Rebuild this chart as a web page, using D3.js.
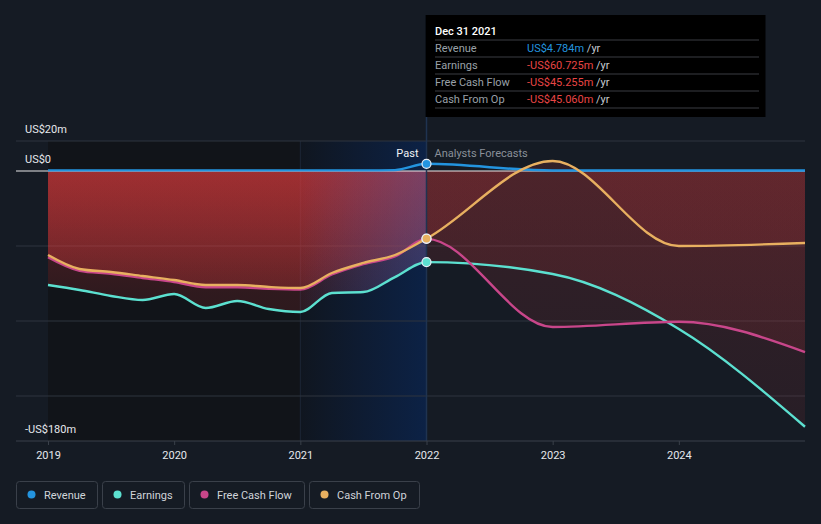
<!DOCTYPE html>
<html><head><meta charset="utf-8">
<script src="https://cdn.jsdelivr.net/npm/d3@7"></script>
<style>
html,body{margin:0;padding:0;background:#151b24;}
svg{display:block;font-family:Roboto,"Noto Sans",sans-serif;}
</style></head>
<body>
<svg id="chart" width="821" height="524"></svg>
<script>
// ---- data (decimal years, values in US$ millions) ----
const pastYears = [2019, 2019.25, 2019.5, 2019.75, 2020, 2020.25, 2020.5, 2020.75, 2021, 2021.25, 2021.5, 2021.75, 2022];
const forecastYears = [2022, 2023, 2024, 2025];
const revenuePast = [0.4, 0.4, 0.4, 0.4, 0.4, 0.4, 0.4, 0.4, 0.4, 0.4, 0.4, 0.6, 4.784];
const earningsPast = [-76, -79.3, -83.3, -86, -82, -91.3, -86.7, -92, -94, -81.3, -80.7, -70.7, -60.725];
const fcfPast = [-57.5, -66.5, -68.5, -71.3, -74, -77.5, -77.5, -78.5, -79, -69, -62, -57, -45.255];
const cfoPast = [-56, -65.3, -67.3, -70, -72.7, -76, -76, -77.3, -78, -68, -61.3, -56, -45.06];
const revenueForecast = [4.784, 0.3, 0.3, 0.3];
const earningsForecast = [-60.725, -68.7, -105.3, -170.5];
const fcfForecast = [-45.255, -104, -100.5, -120.7];
const cfoForecast = [-45.06, 6.7, -50, -48];
const yTicks = [20, 0, -50, -100, -150];
const yLabels = [{v: 20, t: "US$20m"}, {v: 0, t: "US$0"}, {v: -180, t: "-US$180m"}];
const xTicks = [2019, 2020, 2021, 2022, 2023, 2024];
const seriesNames = ["Revenue", "Earnings", "Free Cash Flow", "Cash From Op"];
const seriesColors = ["#2394df", "#5ce0d0", "#c8468a", "#e8b060"];
const tooltipDate = "Dec 31 2021";
const tooltipValues = ["US$4.784m", "-US$60.725m", "-US$45.255m", "-US$45.060m"];

const svg = d3.select("#chart");
const x = d3.scaleLinear().domain([2019, 2025]).range([48, 805]);
const y = d3.scaleLinear().domain([-180, 20]).range([441, 141]);
const xNow = x(2022);

const series = [
  {past: revenuePast, fc: revenueForecast},
  {past: earningsPast, fc: earningsForecast},
  {past: fcfPast, fc: fcfForecast},
  {past: cfoPast, fc: cfoForecast}
].map((s, i) => ({
  name: seriesNames[i], color: seriesColors[i],
  pts: pastYears.map((yr, j) => [yr, s.past[j]]).concat(forecastYears.slice(1).map((yr, j) => [yr, s.fc[j + 1]]))
}));

const curve = d3.curveMonotoneX;
const area = d3.area().x(d => x(d[0])).y0(y(0)).y1(d => y(d[1])).curve(curve);
const line = d3.line().x(d => x(d[0])).y(d => y(d[1])).curve(curve);

const defs = svg.append("defs");
const gPast = defs.append("linearGradient").attr("id", "redPast").attr("gradientUnits", "userSpaceOnUse")
  .attr("x1", 0).attr("x2", 0).attr("y1", y(0)).attr("y2", y(-180));
gPast.append("stop").attr("offset", 0).attr("stop-color", "#dc3a3c").attr("stop-opacity", 0.33);
gPast.append("stop").attr("offset", 0.45).attr("stop-color", "#dc3a3c").attr("stop-opacity", 0.15);
gPast.append("stop").attr("offset", 1).attr("stop-color", "#dc3a3c").attr("stop-opacity", 0.08);
const gFc = defs.append("linearGradient").attr("id", "redFc").attr("gradientUnits", "userSpaceOnUse")
  .attr("x1", 0).attr("x2", 0).attr("y1", y(0)).attr("y2", y(-180));
gFc.append("stop").attr("offset", 0).attr("stop-color", "#dc3a3c").attr("stop-opacity", 0.15);
gFc.append("stop").attr("offset", 1).attr("stop-color", "#dc3a3c").attr("stop-opacity", 0.09);
const gBlue = defs.append("linearGradient").attr("id", "blueHi").attr("gradientUnits", "userSpaceOnUse")
  .attr("x1", x(2021)).attr("x2", xNow).attr("y1", 0).attr("y2", 0);
gBlue.append("stop").attr("offset", 0).attr("stop-color", "#0b2550").attr("stop-opacity", 0.05);
gBlue.append("stop").attr("offset", 1).attr("stop-color", "#0b2550").attr("stop-opacity", 0.8);
const gBlue2 = defs.append("linearGradient").attr("id", "blueHi2").attr("gradientUnits", "userSpaceOnUse")
  .attr("x1", x(2021)).attr("x2", xNow).attr("y1", 0).attr("y2", 0);
gBlue2.append("stop").attr("offset", 0).attr("stop-color", "#3a5aa8").attr("stop-opacity", 0.0);
gBlue2.append("stop").attr("offset", 1).attr("stop-color", "#3a5aa8").attr("stop-opacity", 0.35);
defs.append("clipPath").attr("id", "clipPast").append("rect")
  .attr("x", x(2019)).attr("y", 0).attr("width", xNow - x(2019)).attr("height", 524);
defs.append("clipPath").attr("id", "clipFc").append("rect")
  .attr("x", xNow).attr("y", 0).attr("width", x(2025) - xNow).attr("height", 524);
defs.append("clipPath").attr("id", "clipArea").append("path").attr("d", area(series[1].pts));

// backgrounds
svg.append("rect").attr("x", x(2019)).attr("y", y(20)).attr("width", x(2021) - x(2019)).attr("height", y(-180) - y(20)).attr("fill", "#111419");
svg.append("rect").attr("x", x(2021)).attr("y", y(20)).attr("width", xNow - x(2021)).attr("height", y(-180) - y(20)).attr("fill", "#10151d");
svg.append("rect").attr("x", x(2021)).attr("y", y(20)).attr("width", xNow - x(2021)).attr("height", y(-180) - y(20)).attr("fill", "url(#blueHi)");
svg.append("line").attr("x1", x(2021)).attr("x2", x(2021)).attr("y1", y(20)).attr("y2", y(-180)).attr("stroke", "#1c2636").attr("stroke-width", 1);

// gridlines
svg.append("g").selectAll("line").data(yTicks.filter(d => d !== 0)).join("line")
  .attr("x1", 16).attr("x2", 805).attr("y1", d => y(d)).attr("y2", d => y(d))
  .attr("stroke", "#2e343e").attr("stroke-width", 1);

// areas
const areaG = svg.append("g");
series.slice(1).forEach(s => {
  areaG.append("path").attr("d", area(s.pts)).attr("fill", "url(#redPast)").attr("clip-path", "url(#clipPast)");
  areaG.append("path").attr("d", area(s.pts)).attr("fill", "url(#redFc)").attr("clip-path", "url(#clipFc)");
});
svg.append("g").attr("clip-path", "url(#clipArea)").append("rect")
  .attr("x", x(2021)).attr("y", y(20)).attr("width", xNow - x(2021)).attr("height", y(-180) - y(20)).attr("fill", "url(#blueHi2)");

// zero line
svg.append("line").attr("x1", 16).attr("x2", 805).attr("y1", y(0)).attr("y2", y(0)).attr("stroke", "#e8e8e8").attr("stroke-width", 1.2);

// lines
const lineG = svg.append("g");
series.forEach(s => {
  lineG.append("path").attr("d", line(s.pts)).attr("fill", "none").attr("stroke", s.color).attr("stroke-width", 2.4);
});

// hover vertical line
svg.append("line").attr("x1", xNow).attr("x2", xNow).attr("y1", 15).attr("y2", y(-180)).attr("stroke", "#1f3350").attr("stroke-width", 1.5);

// markers
series.forEach(s => {
  const p = s.pts[pastYears.length - 1];
  svg.append("circle").attr("cx", x(p[0])).attr("cy", y(p[1])).attr("r", 4.5)
    .attr("fill", s.color).attr("stroke", "#e8eef5").attr("stroke-width", 1.2);
});

// x axis
svg.append("line").attr("x1", 16).attr("x2", 805).attr("y1", y(-180)).attr("y2", y(-180)).attr("stroke", "#3a404a").attr("stroke-width", 1);
const xAxis = svg.append("g").attr("transform", `translate(0,${y(-180)})`)
  .call(d3.axisBottom(x).tickValues(xTicks).tickFormat(d3.format("d")).tickSize(4).tickPadding(6));
xAxis.select(".domain").remove();
xAxis.selectAll(".tick line").attr("stroke", "#3a404a");
xAxis.selectAll(".tick text").attr("fill", "#e6e8ec").attr("font-size", 11).attr("font-family", "Roboto,sans-serif");

// y labels
svg.append("g").selectAll("text").data(yLabels).join("text")
  .attr("x", 25).attr("y", d => y(d.v) - 8).attr("fill", "#e6e8ec").attr("font-size", 11)
  .text(d => d.t);

// Past / Analysts Forecasts
svg.append("text").attr("x", xNow - 8).attr("y", 157).attr("text-anchor", "end").attr("fill", "#f0f2f5").attr("font-size", 11).text("Past");
svg.append("text").attr("x", xNow + 8).attr("y", 157).attr("fill", "#8a9099").attr("font-size", 11).text("Analysts Forecasts");

// tooltip
const tt = svg.append("g");
tt.append("rect").attr("x", xNow - 1).attr("y", 15).attr("width", 340).attr("height", 102).attr("fill", "#000");
tt.append("text").attr("x", 435).attr("y", 35).attr("fill", "#ffffff").attr("font-size", 11).attr("font-weight", 500).text(tooltipDate);
seriesNames.forEach((n, i) => {
  const yy = 52 + i * 17;
  tt.append("line").attr("x1", 435).attr("x2", 759).attr("y1", yy - 12).attr("y2", yy - 12).attr("stroke", "#3a3d42").attr("stroke-width", 1);
  tt.append("text").attr("x", 435).attr("y", yy).attr("fill", "#9aa0a8").attr("font-size", 11).text(n);
  const t = tt.append("text").attr("x", 527).attr("y", yy).attr("font-size", 11);
  t.append("tspan").attr("fill", i === 0 ? "#2394df" : "#e84545").text(tooltipValues[i]);
  t.append("tspan").attr("fill", "#c8ccd2").text(" /yr");
});
tt.append("line").attr("x1", 435).attr("x2", 759).attr("y1", 108).attr("y2", 108).attr("stroke", "#3a3d42").attr("stroke-width", 1);

// legend
const legendX = [16, 102, 189, 309];
const legendW = [81, 82, 115, 110];
const lg = svg.append("g");
seriesNames.forEach((n, i) => {
  const g = lg.append("g").attr("transform", `translate(${legendX[i]},481)`);
  g.append("rect").attr("x", 0.5).attr("y", 0.5).attr("width", legendW[i]).attr("height", 27).attr("rx", 3)
    .attr("fill", "none").attr("stroke", "#3a404a");
  g.append("circle").attr("cx", 15.5).attr("cy", 13.5).attr("r", 4).attr("fill", seriesColors[i]);
  g.append("text").attr("x", 28).attr("y", 17.5).attr("fill", "#d0d4da").attr("font-size", 11).text(n);
});
</script>
</body></html>
